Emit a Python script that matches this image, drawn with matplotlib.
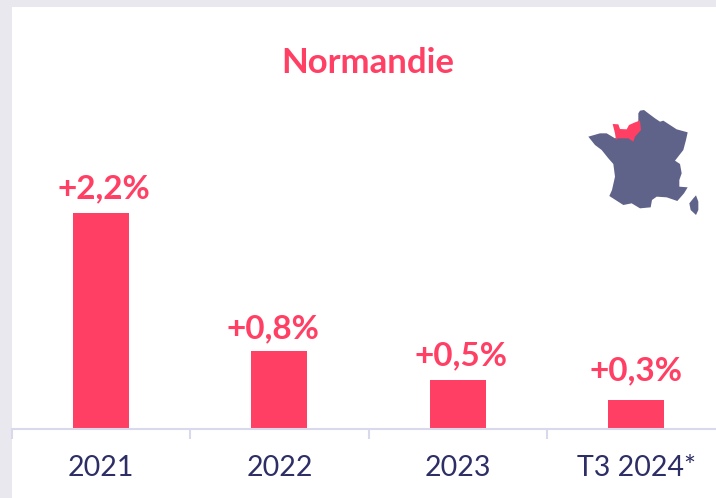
import matplotlib
matplotlib.use("Agg")
import matplotlib.pyplot as plt
from matplotlib.patches import Polygon, Rectangle

years = ["2021", "2022", "2023", "T3 2024*"]
values = [2.2, 0.8, 0.5, 0.3]
value_labels = ["+2,2%", "+0,8%", "+0,5%", "+0,3%"]
title = "Normandie"
label_offsets_px = [(2.5, 15), (-7, 12), (3, 15), (0, 19)]

france_outline = [(235,70),(240,62),(252,60),(265,70),(285,85),(300,95),(310,92),(330,105),(350,118),(383,127),
    (378,150),(370,180),(345,212),(360,222),(365,250),(358,270),(358,290),(383,292),(372,310),(352,333),
    (320,322),(290,320),(276,330),(272,352),(240,355),(215,340),(190,345),(148,318),(156,300),(165,260),(160,222),
    (145,205),(125,180),(105,165),(85,140),(120,130),(140,130),(165,145),(200,125),(225,110),(235,92)]
corsica_outline = [(408,316),(415,335),(415,360),(408,375),(392,360),(388,340),(400,325)]
normandy_outline = [(158,102),(175,103),(180,117),(200,118),(207,105),(225,97),(240,92),(243,120),(225,140),
    (220,155),(205,145),(172,145),(168,150),(165,130)]

RED = "#FF3F63"; NAVY = "#2E2E66"; AXIS = "#D9D9EE"; MAP = "#5F6389"; BG = "#E9E8EE"
W, H = 716, 498
fig = plt.figure(figsize=(W/100, H/100), dpi=100, facecolor=BG)
plt.rcParams["font.family"] = ["Lato", "DejaVu Sans"]

ax = fig.add_axes([12/W, (H-429)/H, (W-12)/W, 422/H], facecolor="white")
fig.add_artist(Rectangle((12/W, 0), (W-12)/W, (H-7)/H, transform=fig.transFigure, fc="white", ec="none", zorder=-1))
band = 178.3
ax.bar(range(4), values, width=56/band, color=RED, linewidth=0)
ax.set_xlim(-0.5, -0.5 + (W-12)/band)
ax.set_ylim(0, 422/98)
for s in ["top", "left", "right"]:
    ax.spines[s].set_visible(False)
ax.spines["bottom"].set_color(AXIS); ax.spines["bottom"].set_linewidth(1.5)
ax.set_yticks([])
ax.set_xticks(range(4), years, fontsize=20.5, color=NAVY)
ax.tick_params(axis="x", which="major", length=0, pad=19)
ax.set_xticks([-0.5, 0.5, 1.5, 2.5], minor=True)
ax.tick_params(axis="x", which="minor", length=7, width=1.5, color=AXIS)
for i, (v, lab) in enumerate(zip(values, value_labels)):
    dx, dy = label_offsets_px[i]
    ax.annotate(lab, (i, v), xytext=(dx*0.72, dy*0.72), textcoords="offset points", ha="center", va="baseline",
                fontsize=24, fontweight="bold", color=RED)
fig.text(368/W, 1-73/H, title, ha="center", va="baseline", fontsize=25, fontweight="bold", color=RED)

m = fig.add_axes([560/W, 1-230/H, 156/W, 140/H])
m.set_xlim(0, 468); m.set_ylim(420, 0); m.axis("off")
m.add_patch(Polygon(france_outline, fc=MAP, ec="none", zorder=1))
m.add_patch(Polygon(corsica_outline, fc=MAP, ec="none", zorder=1))
m.add_patch(Polygon(normandy_outline, fc=RED, ec="none", zorder=3))
fig.savefig("out.png", dpi=100, facecolor=BG)
